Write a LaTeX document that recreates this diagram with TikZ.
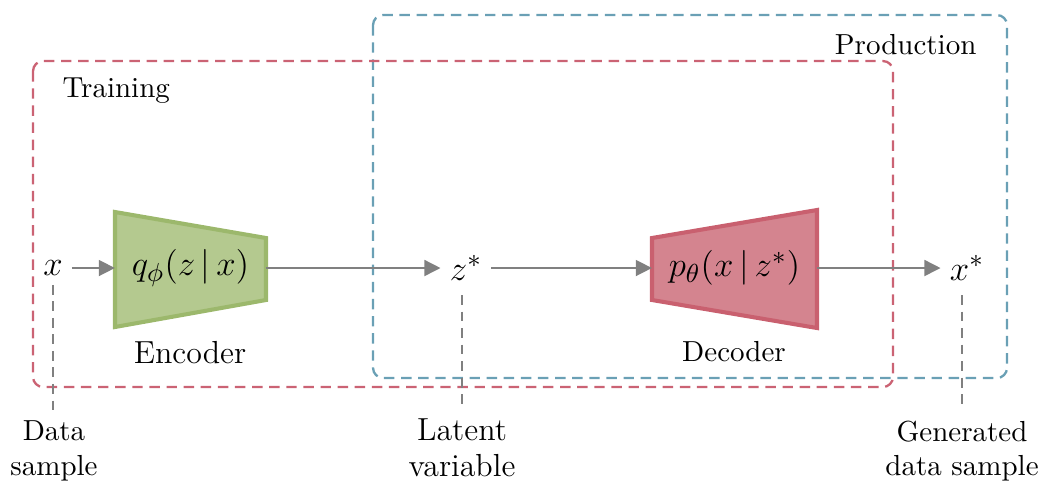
\documentclass[tikz,border=0pt]{standalone}
\usepackage{amsmath}
\usetikzlibrary{arrows.meta}
\definecolor{trainred}{RGB}{203,99,116}
\definecolor{prodblue}{RGB}{106,160,181}
\definecolor{encfill}{RGB}{180,201,143}
\definecolor{encline}{RGB}{156,184,108}
\definecolor{decfill}{RGB}{212,132,143}
\definecolor{decline}{RGB}{201,96,111}
\definecolor{flowgray}{RGB}{128,128,128}
\newcommand{\mathsize}{\fontsize{13}{15}\selectfont}
\tikzset{
  areabox/.style={line width=0.8pt, dash pattern=on 3.6pt off 2.3pt, rounded corners=3.5pt},
  flow/.style={draw=flowgray, line width=1pt, -{Triangle[length=5.6pt,width=5.4pt]}},
  guide/.style={draw=flowgray, line width=0.8pt, dash pattern=on 3.4pt off 2.3pt},
  var/.style={font=\mathsize, inner sep=3pt},
  block/.style={minimum height=30pt, outer sep=0pt, inner sep=0pt, font=\mathsize},
  caption/.style={align=center, inner sep=0pt, font=\normalsize},
}
\begin{document}
\begin{tikzpicture}[x=0.3448pt, y=-0.3448pt]
\useasboundingbox (0,0) rectangle (1042,480);

% operating regions
\draw[areabox, prodblue] (373,15) rectangle (1007,378);
\draw[areabox, trainred] (33,61) rectangle (893,387);
\node[anchor=west, inner sep=0pt] (trainlbl) at (62,91) {Training};
\node[anchor=east, inner sep=0pt] (prodlbl) at (977,45) {Production};

% encoder block
\fill[encfill, draw=encline, line width=1.4pt, line join=miter]
  (115,212) -- (266,238) -- (266,300) -- (115,327) -- cycle;
\node[block, minimum width=52.06pt] (enc) at (190.5,268) {$q_\phi(z \,|\, x)$};
\node[inner sep=0pt, font=\fontsize{11}{13}\selectfont] (enclbl) at (190,353) {Encoder};

% decoder block
\fill[decfill, draw=decline, line width=1.4pt, line join=miter]
  (652,238) -- (817,210) -- (817,328) -- (652,300) -- cycle;
\node[block, minimum width=56.89pt] (dec) at (734.5,268) {$p_\theta(x \,|\, z^*)$};
\node[inner sep=0pt] (declbl) at (734,352) {Decoder};

% variables
\node[var] (x) at (53,268) {$x$};
\node[var] (z) at (466,268) {$z^*$};
\node[var] (xs) at (967,268) {$x^*$};

% data flow, kept level with the block centres
\draw[flow] (x.east |- enc.west) -- (enc.west);
\draw[flow] (enc.east) -- (enc.east -| z.west);
\draw[flow] (z.east |- dec.west) -- (dec.west);
\draw[flow] (dec.east) -- (dec.east -| xs.west);

% captions under the variables
\node[caption, anchor=north] (cx) at (54,420) {Data\\sample};
\node[caption, anchor=north, font=\fontsize{11}{12.3}\selectfont] (cz) at (462,418) {Latent\\variable};
\node[caption, anchor=north] (cxs) at (962,420) {Generated\\data sample};
\coordinate (gx) at (53,410);
\coordinate (gz) at (462,410);
\coordinate (gxs) at (962,410);
\draw[guide] (x.south) -- (gx);
\draw[guide] (462,295) -- (gz);
\draw[guide] (962,295) -- (gxs);
\end{tikzpicture}
\end{document}
